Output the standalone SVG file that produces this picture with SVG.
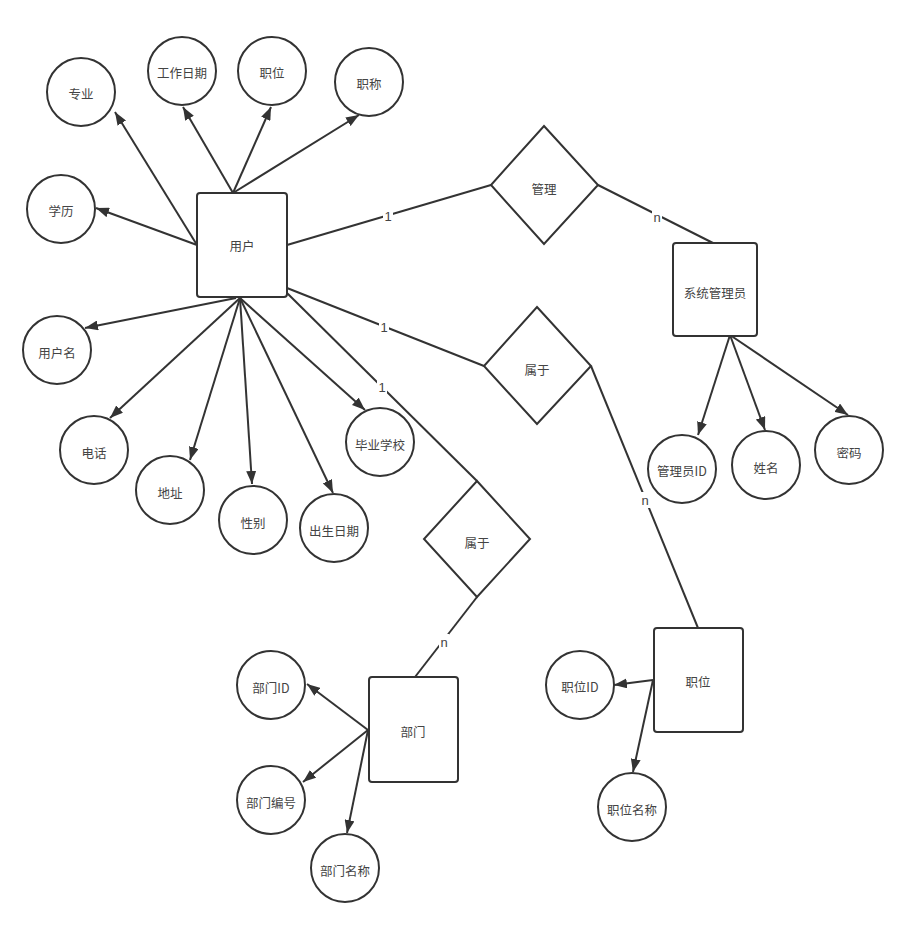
<svg xmlns="http://www.w3.org/2000/svg" width="907" height="940" viewBox="0 0 907 940">
<style>
.ent{fill:#fff;stroke:#333;stroke-width:2}
.att{fill:#fff;stroke:#333;stroke-width:2}
.rel{fill:#fff;stroke:#333;stroke-width:2}
.ln{fill:none;stroke:#333;stroke-width:2}
.ar{fill:none;stroke:#333;stroke-width:2;marker-end:url(#ah)}
.t{font-family:"Noto Sans CJK SC","Liberation Sans",sans-serif;font-size:12.5px;fill:#444;text-anchor:middle;dominant-baseline:central}
.lb{font-family:"Liberation Sans","Noto Sans CJK SC",sans-serif;font-size:13px;fill:#444;text-anchor:middle;dominant-baseline:central}
.bg{fill:#fff}
</style>
<defs>
<marker id="ah" viewBox="0 0 13 10" refX="13" refY="5" markerWidth="13" markerHeight="10" orient="auto" markerUnits="userSpaceOnUse">
<path d="M0,0 L13,5 L0,10 z" fill="#333"/>
</marker>
</defs>
<rect width="907" height="940" fill="#fff"/>
<g id="connectors">
<line class="ar" x1="197" y1="245" x2="115" y2="112"/>
<line class="ar" x1="197" y1="245" x2="96" y2="208"/>
<line class="ar" x1="233" y1="193" x2="183" y2="107"/>
<line class="ar" x1="233" y1="193" x2="271" y2="107"/>
<line class="ar" x1="233" y1="193" x2="359" y2="115"/>
<line class="ar" x1="236" y1="298" x2="85" y2="328"/>
<line class="ar" x1="240" y1="298" x2="110" y2="418"/>
<line class="ar" x1="240" y1="298" x2="190" y2="460"/>
<line class="ar" x1="240" y1="298" x2="252" y2="484"/>
<line class="ar" x1="240" y1="298" x2="333" y2="493"/>
<line class="ar" x1="240" y1="298" x2="365" y2="410"/>
<line class="ln" x1="287" y1="245" x2="491" y2="185"/>
<line class="ln" x1="598" y1="185" x2="713" y2="243"/>
<line class="ln" x1="287" y1="288" x2="484" y2="366"/>
<line class="ln" x1="591" y1="366" x2="698" y2="628"/>
<line class="ln" x1="287" y1="293" x2="477" y2="481"/>
<line class="ln" x1="477" y1="597" x2="415" y2="677"/>
<line class="ar" x1="730" y1="335" x2="698" y2="435"/>
<line class="ar" x1="730" y1="335" x2="765" y2="430"/>
<line class="ar" x1="730" y1="335" x2="848" y2="415"/>
<line class="ar" x1="368" y1="730" x2="307" y2="684"/>
<line class="ar" x1="368" y1="730" x2="303" y2="782"/>
<line class="ar" x1="368" y1="730" x2="347" y2="833"/>
<line class="ar" x1="653" y1="680" x2="614" y2="685"/>
<line class="ar" x1="653" y1="680" x2="633" y2="772"/>
<rect class="bg" x="383" y="208" width="10" height="16"/><text class="lb" x="388" y="216">1</text>
<rect class="bg" x="652" y="210" width="10" height="16"/><text class="lb" x="657" y="217">n</text>
<rect class="bg" x="379" y="319" width="10" height="16"/><text class="lb" x="384" y="327">1</text>
<rect class="bg" x="377" y="379" width="10" height="16"/><text class="lb" x="382" y="387">1</text>
<rect class="bg" x="640" y="492" width="10" height="16"/><text class="lb" x="645" y="500">n</text>
<rect class="bg" x="439" y="634" width="10" height="16"/><text class="lb" x="444" y="642">n</text>
</g>
<g id="user"><rect class="ent" x="197" y="193" width="90" height="104" rx="3"/><text class="t" x="242" y="245">用户</text></g>
<g id="admin"><rect class="ent" x="673" y="243" width="84" height="93" rx="3"/><text class="t" x="715" y="292">系统管理员</text></g>
<g id="dept"><rect class="ent" x="369" y="677" width="89" height="105" rx="3"/><text class="t" x="413" y="731">部门</text></g>
<g id="job"><rect class="ent" x="654" y="628" width="89" height="104" rx="3"/><text class="t" x="698" y="681">职位</text></g>
<g id="rel-manage"><polygon class="rel" points="544,126 598,185 544,244 491,185"/><text class="t" x="544" y="188">管理</text></g>
<g id="rel-belong1"><polygon class="rel" points="537,307 591,366 537,424 484,366"/><text class="t" x="537" y="369">属于</text></g>
<g id="rel-belong2"><polygon class="rel" points="477,481 530,539 477,597 424,539"/><text class="t" x="477" y="542">属于</text></g>
<g id="a-major"><circle class="att" cx="81" cy="92" r="34"/><text class="t" x="81" y="93">专业</text></g>
<g id="a-workdate"><circle class="att" cx="182" cy="71" r="34"/><text class="t" x="182" y="72">工作日期</text></g>
<g id="a-position"><circle class="att" cx="272" cy="71" r="34"/><text class="t" x="272" y="72">职位</text></g>
<g id="a-title"><circle class="att" cx="369" cy="82" r="34"/><text class="t" x="369" y="83">职称</text></g>
<g id="a-edu"><circle class="att" cx="61" cy="209" r="34"/><text class="t" x="61" y="210">学历</text></g>
<g id="a-username"><circle class="att" cx="57" cy="350" r="34"/><text class="t" x="57" y="352">用户名</text></g>
<g id="a-phone"><circle class="att" cx="94" cy="450" r="34"/><text class="t" x="94" y="452">电话</text></g>
<g id="a-addr"><circle class="att" cx="170" cy="490" r="34"/><text class="t" x="170" y="492">地址</text></g>
<g id="a-sex"><circle class="att" cx="253" cy="520" r="34"/><text class="t" x="253" y="522">性别</text></g>
<g id="a-birth"><circle class="att" cx="334" cy="528" r="34"/><text class="t" x="334" y="530">出生日期</text></g>
<g id="a-school"><circle class="att" cx="380" cy="442" r="34"/><text class="t" x="380" y="444">毕业学校</text></g>
<g id="a-adminid"><circle class="att" cx="682" cy="469" r="34"/><text class="t" x="682" y="470">管理员ID</text></g>
<g id="a-name"><circle class="att" cx="766" cy="465" r="34"/><text class="t" x="766" y="467">姓名</text></g>
<g id="a-pwd"><circle class="att" cx="849" cy="450" r="34"/><text class="t" x="849" y="452">密码</text></g>
<g id="a-deptid"><circle class="att" cx="271" cy="685" r="34"/><text class="t" x="271" y="687">部门ID</text></g>
<g id="a-deptno"><circle class="att" cx="271" cy="800" r="34"/><text class="t" x="271" y="802">部门编号</text></g>
<g id="a-deptname"><circle class="att" cx="345" cy="868" r="34"/><text class="t" x="345" y="870">部门名称</text></g>
<g id="a-jobid"><circle class="att" cx="580" cy="685" r="34"/><text class="t" x="580" y="686">职位ID</text></g>
<g id="a-jobname"><circle class="att" cx="632" cy="807" r="34"/><text class="t" x="632" y="809">职位名称</text></g>
</svg>
